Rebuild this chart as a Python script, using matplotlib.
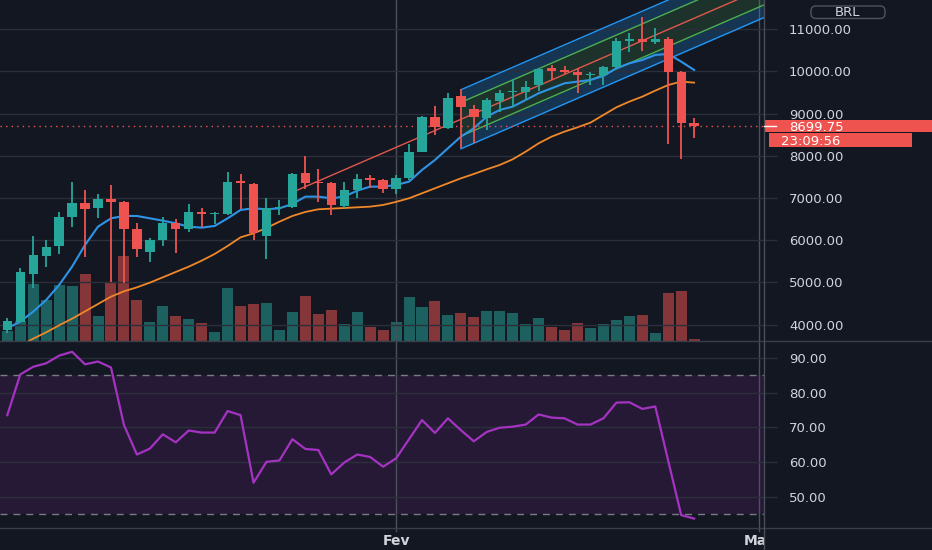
import numpy as np
import pandas as pd
import matplotlib
matplotlib.use("Agg")
import matplotlib.pyplot as plt
from matplotlib.patches import Rectangle, FancyBboxPatch
from matplotlib.lines import Line2D

# ---------------- data ----------------
dates = pd.date_range("2021-01-02", periods=54, freq="D")

opens = [3874, 4071, 5201, 5628, 5865, 6544, 6876, 6758, 6971, 6916,
         6260, 5730, 6007, 6402, 6260, 6663, 6631, 6623, 7405, 7326,
         6102, 6758, 6781, 7595, 7382, 7350, 6813, 7192, 7468, 7421,
         7208, 7468, 8100, 8930, 8653, 9428, 9104, 8890, 9309, 9515,
         9522, 9680, 10076, 10036, 9996, 9910, 9917, 10115, 10731, 10771,
         10692, 10763, 9996, 8772]
highs = [4150, 5351, 6102, 6007, 6663, 7390, 7192, 7089, 7310, 6930,
         6402, 6062, 6544, 6505, 6860, 6758, 6660, 7627, 7563, 7366,
         6994, 6955, 7603, 7998, 7690, 7390, 7390, 7563, 7548, 7453,
         7548, 8282, 8954, 9183, 9483, 9578, 9206, 9380, 9562, 9823,
         9783, 10076, 10154, 10139, 10076, 9996, 10139, 10787, 10905, 11300,
         11024, 10810, 10000, 8890]
lows = [3795, 4032, 4861, 5375, 5675, 6323, 5596, 6520, 5020, 4980,
        5596, 5494, 5865, 5707, 6189, 6307, 6386, 6600, 6742, 6007,
        5549, 6600, 6766, 7208, 6900, 6600, 6758, 7010, 7247, 7129,
        7089, 7429, 8085, 8495, 8638, 8195, 8298, 8614, 9048, 9167,
        9325, 9546, 9799, 9941, 9483, 9680, 9680, 10076, 10455, 10494,
        10652, 8282, 7919, 8417]
closes = [4087, 5256, 5651, 5849, 6544, 6876, 6742, 6971, 6900, 6260,
          5786, 6007, 6402, 6260, 6663, 6623, 6655, 7390, 7350, 6165,
          6758, 6797, 7571, 7366, 7350, 6837, 7192, 7453, 7429, 7216,
          7484, 8100, 8930, 8693, 9380, 9151, 8914, 9325, 9499, 9546,
          9641, 10060, 10020, 9996, 9917, 9941, 10115, 10731, 10763, 10692,
          10763, 9996, 8788, 8699.75]
volume = [30, 60, 172, 124, 167, 164, 200, 75, 174, 254,
          124, 56, 104, 75, 67, 54, 28, 160, 106, 111,
          114, 32, 86, 134, 80, 94, 51, 86, 41, 32,
          56, 131, 102, 119, 79, 83, 71, 89, 89, 85,
          52, 69, 43, 34, 55, 39, 50, 63, 76, 79,
          23, 144, 150, 6]
ema_fast = [3914, 4072, 4309, 4585, 4941, 5375, 5889, 6323, 6520, 6576,
            6576, 6520, 6465, 6402, 6323, 6299, 6339, 6520, 6718, 6758,
            6734, 6758, 6860, 7034, 7034, 6995, 7034, 7176, 7271, 7271,
            7311, 7390, 7666, 7903, 8180, 8456, 8654, 8930, 9088, 9167,
            9325, 9483, 9602, 9720, 9760, 9799, 9894, 10076, 10194, 10273,
            10392, 10415, 10234, 10036]
ema_slow = [np.nan, 3500, 3669, 3819, 3985, 4142, 4316, 4490, 4664, 4790,
            4885, 4996, 5122, 5249, 5375, 5517, 5675, 5865, 6070, 6165,
            6291, 6441, 6576, 6671, 6734, 6750, 6765, 6781, 6797, 6837,
            6910, 6995, 7113, 7232, 7350, 7468, 7571, 7682, 7785, 7919,
            8100, 8298, 8456, 8575, 8677, 8788, 8970, 9151, 9286, 9404,
            9546, 9680, 9760, 9736]
rsi = [73.5, 85.2, 87.4, 88.4, 90.6, 91.7, 88.1, 88.9, 87.2, 70.7,
       62.2, 63.9, 68.0, 65.7, 69.1, 68.5, 68.5, 74.7, 73.5, 54.1,
       60.1, 60.5, 66.6, 63.8, 63.5, 56.5, 59.9, 62.2, 61.5, 58.7,
       61.1, 66.6, 72.1, 68.4, 72.6, 69.2, 66.0, 68.7, 69.9, 70.2,
       70.8, 73.7, 72.8, 72.6, 70.8, 70.8, 72.6, 77.1, 77.2, 75.3,
       76.0, 60.4, 44.8, 43.8]
rsi_upper, rsi_lower = 85, 45

# regression channel (drawing parameters)
ch_start = 35
ch_center0 = 8867
ch_slope = 133
ch_outer = 700
ch_inner = 400
trend_left = 22

price_ticks = list(range(4000, 11001, 1000))
rsi_ticks = [50, 60, 70, 80, 90]
currency = "BRL"
countdown = "23:09:56"
month_names = {2: "Fev", 3: "Mar"}

# ---------------- style ----------------
BG = '#131722'
GRID = '#2b2f3a'
TXT = '#d1d4dc'
GREEN = '#26a69a'
RED = '#ef5350'
SEP = '#3a3e49'
VLINE = '#4c505b'
FS = 9.5

plt.rcParams['font.family'] = ['DejaVu Sans']

W, H = 932, 550
fig = plt.figure(figsize=(W / 100, H / 100), dpi=100, facecolor=BG)


def rect(x0, y0, x1, y1):
    return [x0 / W, 1 - y1 / H, (x1 - x0) / W, (y1 - y0) / H]


idx = np.arange(len(dates))
o = np.array(opens, float)
c = np.array(closes, float)
hi = np.array(highs, float)
lo = np.array(lows, float)
up = c >= o
cols = np.where(up, GREEN, RED)

XL = (-0.563, 58.39)
PLOT_R = 764

# ---------------- main price axes ----------------
ax = fig.add_axes(rect(0, 0, PLOT_R, 341))
ax_vol = ax.twinx()
ax.set_zorder(ax_vol.get_zorder() + 1)
ax.patch.set_visible(False)
ax_vol.patch.set_facecolor(BG)
ax_vol.patch.set_visible(True)

ax.set_xlim(*XL)
ax.set_ylim(3613, 11694)

# volume
ax_vol.bar(idx, volume, width=0.85, color=cols, alpha=0.52, linewidth=0)
ax_vol.set_ylim(0, max(volume) * 4.03)
ax_vol.tick_params(right=False, labelright=False, left=False, labelleft=False)
for s in ax_vol.spines.values():
    s.set_visible(False)

# grid
ax.set_yticks(price_ticks)
ax.set_yticklabels([f"{v:.2f}" for v in price_ticks])
ax.yaxis.tick_right()
ax.grid(axis='y', color=GRID, lw=1, zorder=0)
ax.tick_params(axis='y', direction='out', length=9.4, width=1, color=GRID,
               pad=8.6, labelsize=FS, labelcolor=TXT)
ax.tick_params(axis='x', bottom=False, labelbottom=False)
for s in ax.spines.values():
    s.set_visible(False)

# month separators
start = dates[0]
month_pos = {}
for m, name in month_names.items():
    month_pos[name] = (pd.Timestamp(year=start.year, month=m, day=1) - start).days
for name, p in month_pos.items():
    ax.axvline(p, color=VLINE, lw=1, zorder=1)

# regression channel
ch_end = XL[1] + 2
ch_x = np.array([ch_start, ch_end], float)
center = ch_center0 + ch_slope * (ch_x - ch_start)
ax.fill_between(ch_x, center + ch_inner, center + ch_outer, color='#2196f3', alpha=0.24, lw=0, zorder=1.5)
ax.fill_between(ch_x, center - ch_outer, center - ch_inner, color='#2196f3', alpha=0.24, lw=0, zorder=1.5)
ax.fill_between(ch_x, center - ch_inner, center + ch_inner, color='#4caf50', alpha=0.18, lw=0, zorder=1.5)
ax.plot(ch_x, center + ch_outer, color='#2196f3', lw=1, zorder=2)
ax.plot(ch_x, center - ch_outer, color='#2196f3', lw=1, zorder=2)
ax.plot(ch_x, center + ch_inner, color='#4caf50', lw=1, zorder=2)
ax.plot(ch_x, center - ch_inner, color='#4caf50', lw=1, zorder=2)
tr_x = np.array([trend_left, ch_end], float)
ax.plot(tr_x, ch_center0 + ch_slope * (tr_x - ch_start), color='#e0584c', lw=1, zorder=2)

# moving averages
ax.plot(idx, ema_slow, color='#f0882a', lw=1.3, zorder=3)
ax.plot(idx, ema_fast, color='#2f93e6', lw=1.5, zorder=3)

# candles
ax.vlines(idx, lo, hi, colors=cols, lw=1.3, zorder=4)
body_bot = np.minimum(o, c)
body_h = np.maximum(np.abs(c - o), 22)
ax.bar(idx, body_h, bottom=body_bot, width=0.72, color=cols, linewidth=0, zorder=5)

# last price line
last = closes[-1]
ax.axhline(last, color=RED, lw=1, ls=(0, (1, 3)), zorder=3)

# ---------------- RSI axes ----------------
ax_r = fig.add_axes(rect(0, 341, PLOT_R, 528), facecolor=BG)
ax_r.set_xlim(*XL)
ax_r.set_ylim(41.1, 94.8)
ax_r.axhspan(rsi_lower, rsi_upper, color='#9c27b0', alpha=0.14, lw=0, zorder=0.5)
ax_r.set_yticks(rsi_ticks)
ax_r.set_yticklabels([f"{v:.2f}" for v in rsi_ticks])
ax_r.yaxis.tick_right()
ax_r.grid(axis='y', color=GRID, lw=1, zorder=0.6)
ax_r.tick_params(axis='y', direction='out', length=9.4, width=1, color=GRID,
                 pad=8.6, labelsize=FS, labelcolor=TXT)
ax_r.tick_params(axis='x', bottom=False, labelbottom=False)
for s in ax_r.spines.values():
    s.set_visible(False)
for lvl in (rsi_upper, rsi_lower):
    ax_r.axhline(lvl, color='#787b86', lw=1, ls=(0, (5, 4.3)), zorder=1)
for name, p in month_pos.items():
    ax_r.axvline(p, color=VLINE, lw=1, zorder=1)
ax_r.plot(idx, rsi, color='#a533c2', lw=1.6, zorder=3)

# ---------------- time axis ----------------
ax_t = fig.add_axes(rect(0, 528, PLOT_R, 550), facecolor=BG)
ax_t.set_xlim(*XL)
ax_t.set_ylim(0, 1)
ax_t.set_xticks([])
ax_t.set_yticks([])
for s in ax_t.spines.values():
    s.set_visible(False)
for name, p in month_pos.items():
    ax_t.plot([p, p], [1, 0.86], color=VLINE, lw=1)
    t = ax_t.text(p, 0.43, name, ha='center', va='center', fontsize=10,
                  fontweight='bold', color=TXT, clip_on=True)
    t.set_clip_box(ax_t.bbox)

# ---------------- separators ----------------
for yy in (341, 528):
    fig.add_artist(Line2D([0, 1], [1 - yy / H, 1 - yy / H], transform=fig.transFigure,
                          color=SEP, lw=1))
fig.add_artist(Line2D([PLOT_R / W, PLOT_R / W], [0, 1], transform=fig.transFigure,
                      color='#4a4e59', lw=1))

# ---------------- price scale labels ----------------
fig.canvas.draw()
y_last_px = H - ax.transData.transform((0, last))[1]
fig.add_artist(Rectangle((PLOT_R / W, 1 - (y_last_px + 6) / H), (W - PLOT_R) / W, 12 / H,
                         transform=fig.transFigure, facecolor=RED, edgecolor='none'))
fig.add_artist(Line2D([PLOT_R / W, 776 / W], [1 - y_last_px / H] * 2, transform=fig.transFigure,
                      color='white', lw=1))
fig.text(789 / W, 1 - y_last_px / H, f"{last:.2f}", ha='left', va='center_baseline',
         fontsize=FS, color='white')
fig.add_artist(Rectangle((769 / W, 1 - (y_last_px + 20.3) / H), (912 - 769) / W, 13.4 / H,
                         transform=fig.transFigure, facecolor=RED, edgecolor='none'))
fig.text(781 / W, 1 - (y_last_px + 13.6) / H, countdown, ha='left', va='center_baseline',
         fontsize=FS, color='white')

# currency box
fig.add_artist(FancyBboxPatch((811 / 100, (H - 18.5) / 100), 74 / 100, 12.5 / 100,
                              boxstyle="round,pad=0,rounding_size=0.05",
                              transform=fig.dpi_scale_trans, facecolor=BG,
                              edgecolor='#50535e', lw=1))
fig.text(848 / W, 1 - 12.2 / H, currency, ha='center', va='center', fontsize=9.5, color=TXT)

fig.savefig("out.png", dpi=100, facecolor=BG)
